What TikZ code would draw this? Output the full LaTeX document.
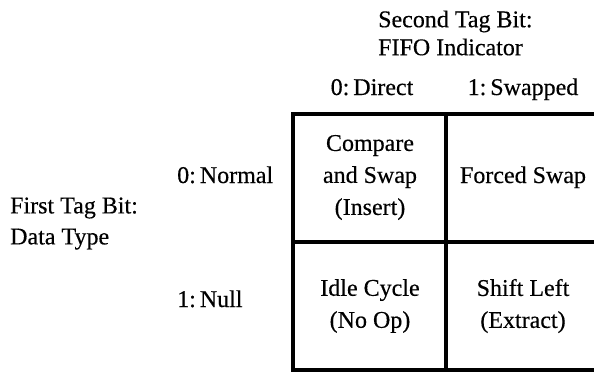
\documentclass[tikz,border=0pt]{standalone}
\usepackage{fontspec}
\setmainfont{Liberation Serif}[FakeBold=0.4]
\begin{document}
\begin{tikzpicture}[x=1pt,y=-1pt,
  lbl/.style={inner sep=0pt, font=\fontsize{24}{28}\selectfont},
  celltext/.style={inner sep=0pt, align=center, font=\fontsize{24}{32}\selectfont},
  gridline/.style={line width=3.2pt, line cap=rect}]
\useasboundingbox (0,0) rectangle (594,376);
% grid
\coordinate (tl) at (293,114);
\coordinate (tm) at (446,114);
\coordinate (tr) at (602,114);
\coordinate (ml) at (293,242);
\coordinate (mr) at (602,242);
\coordinate (bl) at (293,370);
\coordinate (bm) at (446,370);
\coordinate (br) at (602,370);
\draw[gridline] (tr) -- (tl) -- (bl) -- (br) -- cycle;
\draw[gridline] (ml) -- (mr);
\draw[gridline] (tm) -- (bm);
% column header
\node[lbl, align=left, anchor=west] (second) at (378,33) {Second Tag Bit:\\FIFO Indicator};
\node[lbl, anchor=base] (direct) at (372,95) {0:\,Direct};
\node[lbl, anchor=base] (swapped) at (523,95) {1:\,Swapped};
% row header
\node[lbl, align=left, anchor=west, font=\fontsize{24}{31}\selectfont] (first) at (10,223.5) {First Tag Bit:\\Data Type};
\node[lbl, anchor=base west] (normal) at (177,183) {0:\,Normal};
\node[lbl, anchor=base west] (null) at (177,307) {1:\,Null};
% cells
\node[celltext] (cas) at (370,177.5) {Compare\\and Swap\\(Insert)};
\node[celltext, anchor=base] (forced) at (523,183) {Forced Swap};
\node[celltext] (idle) at (370,306) {Idle Cycle\\(No Op)};
\node[celltext] (shift) at (523,306) {Shift Left\\(Extract)};
\end{tikzpicture}
\end{document}
